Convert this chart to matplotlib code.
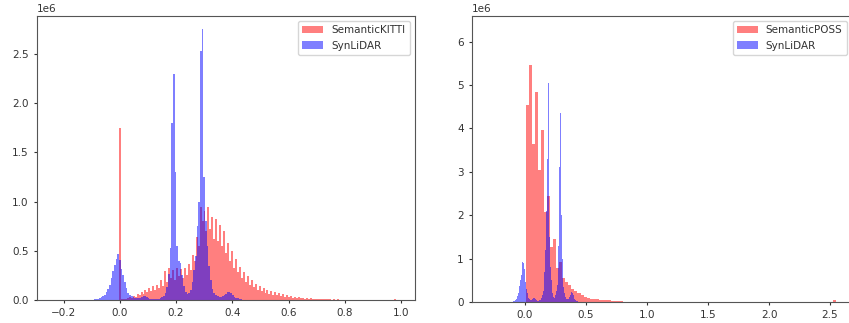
import numpy as np
import matplotlib
matplotlib.use("Agg")
import matplotlib.pyplot as plt

# ---------------- data (counts in millions) ----------------
# Left panel: SemanticKITTI (red) bins start/width
kitti_start, kitti_width = -0.0035, 0.007
kitti_counts = [
    1.75, 0.01, 0.01, 0.015, 0.02, 0.03, 0.025, 0.04, 0.03, 0.06,
    0.05, 0.08, 0.06, 0.10, 0.08, 0.12, 0.09, 0.14, 0.10, 0.15,
    0.12, 0.20, 0.14, 0.29, 0.18, 0.33, 0.22, 0.30, 0.20, 0.33,
    0.24, 0.31, 0.22, 0.33, 0.25, 0.37, 0.30, 0.46, 0.40, 0.64,
    0.55, 0.95, 0.80, 0.90, 0.70, 0.94, 0.72, 0.84, 0.62, 0.82,
    0.60, 0.76, 0.55, 0.70, 0.48, 0.58, 0.40, 0.50, 0.33, 0.42,
    0.28, 0.34, 0.22, 0.28, 0.18, 0.24, 0.15, 0.20, 0.13, 0.16,
    0.10, 0.14, 0.09, 0.12, 0.07, 0.10, 0.06, 0.09, 0.05, 0.08,
    0.05, 0.07, 0.04, 0.06, 0.035, 0.05, 0.03, 0.04, 0.025, 0.035,
    0.02, 0.03, 0.02, 0.025, 0.015, 0.02, 0.012, 0.018, 0.01, 0.015,
    0.01, 0.012, 0.008, 0.01, 0.007, 0.009, 0.006, 0.008, 0.005, 0.007,
    0.005, 0.006, 0.004, 0.005, 0.004, 0.004, 0.003, 0.003, 0.003, 0.002,
    0.002, 0.002, 0.002, 0.001, 0.001, 0.001, 0.001, 0.001, 0.001, 0.001,
    0.001, 0.001, 0.001, 0.001, 0.001, 0.001, 0.001, 0.001, 0.001, 0.001,
    0.012, 0.002, 0.0, 0.0,
]

# Left panel: SynLiDAR (blue)
syn_start, syn_width = -0.117, 0.006
syn_left_counts = [
    0.0, 0.002, 0.003, 0.005, 0.007, 0.01, 0.014, 0.02, 0.028, 0.04,
    0.055, 0.08, 0.11, 0.15, 0.22, 0.29, 0.36, 0.42, 0.47, 0.41,
    0.32, 0.25, 0.18, 0.12, 0.07, 0.05, 0.04, 0.03, 0.025, 0.02,
    0.02, 0.025, 0.03, 0.04, 0.04, 0.035, 0.025, 0.015, 0.01, 0.01,
    0.01, 0.012, 0.015, 0.02, 0.03, 0.045, 0.07, 0.13, 0.26, 0.53,
    1.80, 2.30, 1.30, 0.55, 0.40, 0.38, 0.25, 0.14, 0.08, 0.06,
    0.07, 0.10, 0.18, 0.30, 0.45, 0.75, 1.00, 2.53, 2.75, 1.25,
    0.80, 0.55, 0.35, 0.20, 0.11, 0.07, 0.05, 0.04, 0.035, 0.035,
    0.04, 0.05, 0.065, 0.08, 0.08, 0.07, 0.05, 0.035, 0.025, 0.018,
    0.012, 0.008, 0.005, 0.003, 0.002, 0.001,
]

# Right panel: SemanticPOSS (red)
poss_start, poss_width = -0.0177, 0.0249
poss_counts = [
    0.0, 4.55, 5.45, 3.65, 4.83, 3.05, 3.97, 2.08, 2.45, 1.27,
    1.45, 0.78, 0.92, 0.55, 0.45, 0.40, 0.30, 0.25, 0.20, 0.15,
    0.12, 0.10, 0.08, 0.07, 0.06, 0.05, 0.045, 0.04, 0.035, 0.03,
    0.025, 0.02, 0.02, 0.01, 0.005, 0.003, 0.002, 0.001, 0.001, 0.0,
    0.0, 0.0, 0.0, 0.0, 0.0, 0.0, 0.0, 0.0, 0.0, 0.0,
    0.0, 0.0, 0.0, 0.0, 0.0, 0.0, 0.0, 0.0, 0.0, 0.0,
    0.0, 0.0, 0.0, 0.0, 0.0, 0.0, 0.0, 0.0, 0.0, 0.0,
    0.0, 0.0, 0.0, 0.0, 0.0, 0.0, 0.0, 0.0, 0.0, 0.0,
    0.0, 0.0, 0.0, 0.0, 0.0, 0.0, 0.0, 0.0, 0.0, 0.0,
    0.0, 0.0, 0.0, 0.0, 0.0, 0.0, 0.0, 0.0, 0.0, 0.0,
    0.0, 0.0, 0.05, 0.0,
]

# Right panel: SynLiDAR (blue)
syn_right_counts = [
    0.0, 0.005, 0.01, 0.015, 0.02, 0.03, 0.04, 0.06, 0.09, 0.13,
    0.20, 0.30, 0.38, 0.50, 0.62, 0.80, 0.93, 0.90, 0.75, 0.60,
    0.45, 0.30, 0.20, 0.14, 0.10, 0.08, 0.06, 0.05, 0.05, 0.06,
    0.08, 0.10, 0.09, 0.07, 0.05, 0.04, 0.03, 0.03, 0.03, 0.04,
    0.05, 0.07, 0.10, 0.15, 0.25, 0.40, 0.70, 1.20, 2.10, 3.30,
    3.30, 5.05, 2.45, 1.50, 0.80, 0.50, 0.30, 0.20, 0.12, 0.10,
    0.10, 0.15, 0.25, 0.40, 0.70, 1.30, 3.10, 6.30, 4.35, 2.00,
    1.00, 0.60, 0.35, 0.20, 0.12, 0.08, 0.06, 0.06, 0.07, 0.09,
    0.12, 0.16, 0.20, 0.22, 0.20, 0.15, 0.10, 0.07, 0.05, 0.03,
    0.02, 0.015, 0.01, 0.005, 0.003, 0.0,
]

labels_left = ["SemanticKITTI", "SynLiDAR"]
labels_right = ["SemanticPOSS", "SynLiDAR"]


def edges(start, width, n):
    return np.linspace(start, start + width * n, n + 1)


def draw(ax, start, width, counts, color, label):
    e = edges(start, width, len(counts))
    centers = (e[:-1] + e[1:]) / 2
    ax.hist(centers, bins=e, weights=np.array(counts) * 1e6,
            color=color, alpha=0.5, label=label)


fig = plt.figure(figsize=(8.49, 3.23), dpi=100)
W, H = 849, 323

axL = fig.add_axes([37 / W, 23 / H, 378 / W, 284 / H])
axR = fig.add_axes([472 / W, 21 / H, 380 / W, 286 / H])

draw(axL, kitti_start, kitti_width, kitti_counts, "red", labels_left[0])
draw(axL, syn_start, syn_width, syn_left_counts, "blue", labels_left[1])
draw(axR, poss_start, poss_width, poss_counts, "red", labels_right[0])
draw(axR, syn_start, syn_width, syn_right_counts, "blue", labels_right[1])

axL.set_xlim(-0.295, 1.05)
axL.set_ylim(0, 2.886e6)
axL.set_xticks([-0.2, 0.0, 0.2, 0.4, 0.6, 0.8, 1.0])
axL.set_yticks([0, 0.5e6, 1.0e6, 1.5e6, 2.0e6, 2.5e6])

axR.set_xlim(-0.434, 2.68)
axR.set_ylim(0, 6.59e6)
axR.set_xticks([0.0, 0.5, 1.0, 1.5, 2.0, 2.5])
axR.set_yticks([0, 1e6, 2e6, 3e6, 4e6, 5e6, 6e6])

for ax in (axL, axR):
    ax.tick_params(labelsize=7.5, length=2.5, width=0.8, colors="#333333")
    for s in ax.spines.values():
        s.set_color("#555555")
    ax.yaxis.get_offset_text().set_fontsize(7.5)
    ax.yaxis.get_offset_text().set_color("#333333")
    leg = ax.legend(loc="upper right", fontsize=7.5, framealpha=0.8)
    for t in leg.get_texts():
        t.set_color("#333333")

fig.savefig("out.png", dpi=100)
